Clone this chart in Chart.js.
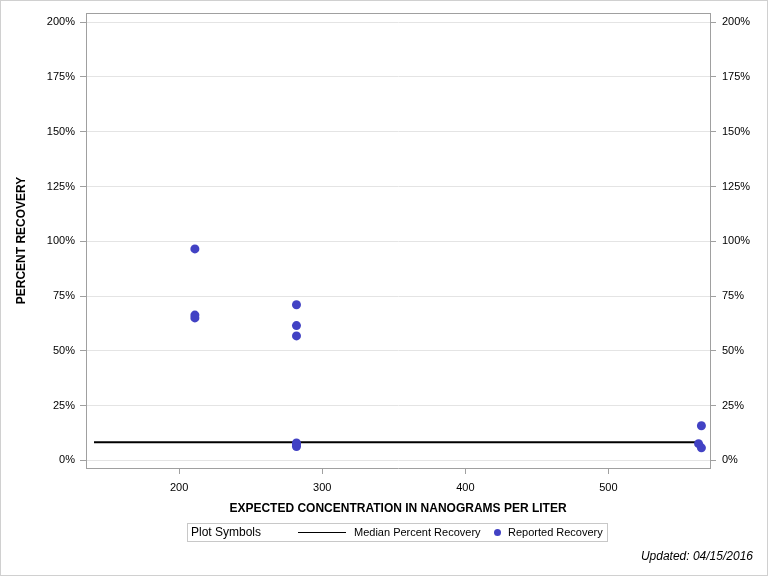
<!DOCTYPE html>
<html>
<head>
<meta charset="utf-8">
<script src="https://cdn.jsdelivr.net/npm/chart.js@4/dist/chart.umd.min.js"></script>
<style>
  html, body { margin: 0; padding: 0; background: #fff; }
  #wrap { position: relative; width: 768px; height: 576px; overflow: hidden; font-family: "Liberation Sans", Arial, sans-serif; }
  #frame { position: absolute; left: 0; top: 0; width: 766px; height: 574px; border: 1px solid #d0d0d0; pointer-events: none; }
  canvas { position: absolute; left: 0; top: 0; }
  #legend { position: absolute; left: 187px; top: 523px; width: 419px; height: 17px; border: 1px solid #c8c8c8; }
  #legend .t { position: absolute; white-space: nowrap; color: #000; }
  #lgTitle { left: 3px; top: 1px; font-size: 12px; }
  #lgLine { position: absolute; left: 110px; top: 8px; width: 48px; height: 0; border-top: 1px solid #000; }
  #lgMed { left: 166px; top: 2px; font-size: 11px; }
  #lgDot { position: absolute; left: 306px; top: 5px; width: 7px; height: 7px; border-radius: 50%; background: rgb(66,66,196); }
  #lgRep { left: 320px; top: 2px; font-size: 11px; }
  #updated { position: absolute; right: 15px; top: 549px; font-size: 12px; font-style: italic; color: #000; white-space: nowrap; }
</style>
</head>
<body>
<div id="wrap">
  <canvas id="c" width="768" height="576"></canvas>
  <div id="legend">
    <span class="t" id="lgTitle">Plot Symbols</span>
    <span id="lgLine"></span>
    <span class="t" id="lgMed">Median Percent Recovery</span>
    <span id="lgDot"></span>
    <span class="t" id="lgRep">Reported Recovery</span>
  </div>
  <div id="updated">Updated: 04/15/2016</div>
  <div id="frame"></div>
</div>
<script>
// ---- data ----
const expectedConc = [211, 211, 211, 282, 282, 282, 282, 282, 282, 565, 563, 565];
const percentRecovery = [96.5, 66.3, 65.0, 71.0, 61.5, 56.8, 7.9, 7.1, 6.3, 15.8, 7.6, 5.7];
const medianX = [140.5, 565];
const medianValue = 8.3;
const xTickValues = [200, 300, 400, 500];
const yTickValues = [0, 25, 50, 75, 100, 125, 150, 175, 200];

const pointColor = 'rgb(66,66,196)';
const recoveryPoints = expectedConc.map((x, i) => ({ x: x, y: percentRecovery[i] }));
const medianPoints = medianX.map(x => ({ x: x, y: medianValue }));

const tickFont = { family: '"Liberation Sans", Arial, sans-serif', size: 11 };
const titleFont = { family: '"Liberation Sans", Arial, sans-serif', size: 12, weight: 'bold' };

const keepTicks = (vals) => (scale) => { scale.ticks = vals.map(v => ({ value: v })); };

const framePlugin = {
  id: 'frameRect',
  afterDraw(chart) {
    const a = chart.chartArea, ctx = chart.ctx;
    ctx.save();
    ctx.strokeStyle = '#a0a0a0';
    ctx.lineWidth = 1;
    ctx.beginPath();
    ctx.moveTo(a.left, a.top + 0.5);
    ctx.lineTo(a.right, a.top + 0.5);
    ctx.stroke();
    ctx.restore();
  }
};

new Chart(document.getElementById('c'), {
  type: 'scatter',
  data: {
    datasets: [
      {
        label: 'Median Percent Recovery',
        type: 'line',
        data: medianPoints,
        borderColor: '#000',
        borderWidth: 2,
        pointRadius: 0,
        fill: false,
        order: 2
      },
      {
        label: 'Reported Recovery',
        data: recoveryPoints,
        backgroundColor: pointColor,
        borderColor: pointColor,
        pointRadius: 4.5,
        borderWidth: 0,
        order: 1
      }
    ]
  },
  options: {
    responsive: false,
    animation: false,
    devicePixelRatio: 1,
    layout: { padding: { top: 13, bottom: 58, left: 0, right: 0 } },
    plugins: { legend: { display: false }, tooltip: { enabled: false } },
    scales: {
      x: {
        type: 'linear',
        position: 'bottom',
        min: 134.9,
        max: 571,
        afterBuildTicks: keepTicks(xTickValues),
        afterFit: (s) => { s.height = 50; },
        ticks: { font: tickFont, color: '#000', padding: 7, maxRotation: 0 },
        grid: { drawOnChartArea: false, drawTicks: true, tickLength: 6, color: '#a0a0a0' },
        border: { display: true, color: '#a0a0a0' },
        title: { display: true, text: 'EXPECTED CONCENTRATION IN NANOGRAMS PER LITER', font: titleFont, color: '#000', padding: { top: 4, bottom: 2 } }
      },
      y: {
        type: 'linear',
        position: 'left',
        min: -3.5,
        max: 204.2,
        afterBuildTicks: keepTicks(yTickValues),
        afterFit: (s) => { s.width = 86; },
        ticks: { font: tickFont, color: '#000', padding: 5, callback: v => v + '%' },
        grid: { color: '#e4e4e4', tickColor: '#a0a0a0', tickLength: 6, drawTicks: true },
        border: { display: true, color: '#a0a0a0' },
        title: { display: true, text: 'PERCENT RECOVERY', font: titleFont, color: '#000', padding: { top: 14, bottom: 0 } }
      },
      y2: {
        type: 'linear',
        position: 'right',
        min: -3.5,
        max: 204.2,
        afterBuildTicks: keepTicks(yTickValues),
        afterFit: (s) => { s.width = 58; },
        ticks: { font: tickFont, color: '#000', padding: 6, callback: v => v + '%' },
        grid: { drawOnChartArea: false, tickColor: '#a0a0a0', tickLength: 6, drawTicks: true },
        border: { display: true, color: '#a0a0a0' }
      }
    }
  },
  plugins: [framePlugin]
});
</script>
</body>
</html>
